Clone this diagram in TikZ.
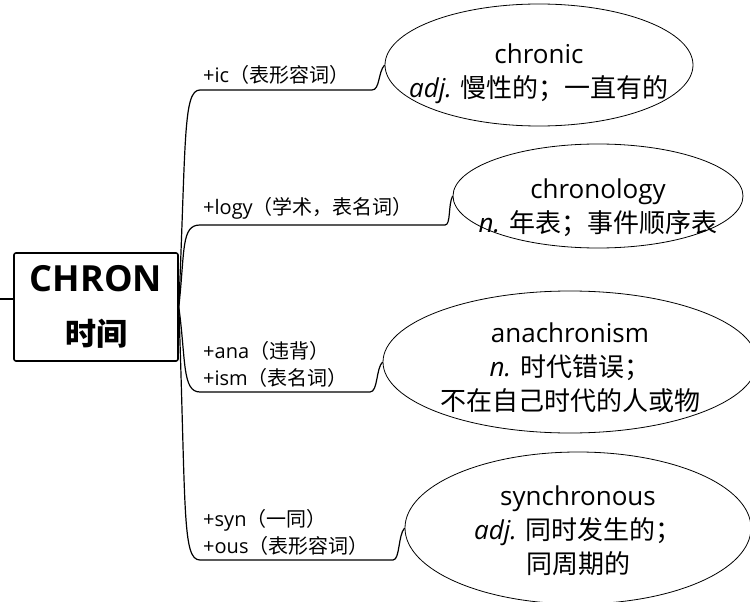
\documentclass[tikz,border=0pt]{standalone}
\usepackage{fontspec}
\setmainfont{Open Sans}
\newfontfamily\cjk{Noto Sans CJK SC}
\usetikzlibrary{shapes.geometric}

\begin{document}
\begin{tikzpicture}[
  x=1pt, y=-1pt,
  rootbox/.style={draw, line width=1.6pt, rounded corners=2pt, align=center, minimum width=164pt, minimum height=108pt, inner sep=0pt, font=\fontsize{36}{54}\selectfont\bfseries},
  word/.style={draw, ellipse, line width=0.8pt, inner sep=0pt},
  wordtext/.style={align=center, inner sep=0pt, font=\fontsize{26}{34}\selectfont},
  lbl/.style={anchor=south west, align=left, inner sep=0pt, font=\fontsize{20}{27}\selectfont},
  branch/.style={line width=1.2pt}
]
\useasboundingbox (0,0) rectangle (750,602);

% root
\node[rootbox] (root) at (96,307) {CHRON\\{\cjk\fontsize{31}{54}\selectfont 时间}};
\coordinate (stub) at (0,299);
\draw[line width=1.2pt] (stub) -- (stub -| root.west);

% words
\node[word, minimum width=308pt, minimum height=122pt,
  label={[wordtext, yshift=-9pt]center:chronic\\{\itshape adj.} {\cjk 慢性的；一直有的}}] (chronic) at (539,65) {};
\node[word, minimum width=290pt, minimum height=104pt,
  label={[wordtext, yshift=-12pt]center:chronology\\{\itshape n.} {\cjk 年表；事件顺序表}}] (chronology) at (598,196) {};
\node[word, minimum width=374pt, minimum height=142pt,
  label={[wordtext, yshift=-6pt]center:anachronism\\{\itshape n.} {\cjk 时代错误；}\\{\cjk 不在自己时代的人或物}}] (anachronism) at (570,362) {};
\node[word, minimum width=346pt, minimum height=152pt,
  label={[wordtext, yshift=-3pt]center:synchronous\\{\itshape adj.} {\cjk 同时发生的；}\\{\cjk 同周期的}}] (synchronous) at (578,528) {};

% labels
\node[lbl] (ic) at (203,85) {+ic{\cjk（表形容词）}};
\node[lbl] (logy) at (203,220) {+logy{\cjk（学术，表名词）}};
\node[lbl] (anaism) at (203,388) {+ana{\cjk（违背）}\\+ism{\cjk（表名词）}};
\node[lbl] (synous) at (203,556) {+syn{\cjk（一同）}\\+ous{\cjk（表形容词）}};

% branches
\coordinate (b1s) at (200,90);  \coordinate (b1e) at (372,90);
\coordinate (b2s) at (200,225); \coordinate (b2e) at (445,225);
\coordinate (b3s) at (200,392); \coordinate (b3e) at (370,392);
\coordinate (b4s) at (200,560); \coordinate (b4e) at (393,560);
\draw[branch] (root.east) .. controls (186,140) and (183,90) .. (b1s) -- (b1e) .. controls (380,90) and (378,72) .. (chronic.west);
\draw[branch] (root.east) .. controls (185,250) and (181,225) .. (b2s) -- (b2e) .. controls (451,225) and (448,205) .. (chronology.west);
\draw[branch] (root.east) .. controls (186,360) and (182,392) .. (b3s) -- (b3e) .. controls (378,392) and (376,368) .. (anachronism.west);
\draw[branch] (root.east) .. controls (186,510) and (182,560) .. (b4s) -- (b4e) .. controls (400,560) and (398,535) .. (synchronous.west);
\end{tikzpicture}
\end{document}
